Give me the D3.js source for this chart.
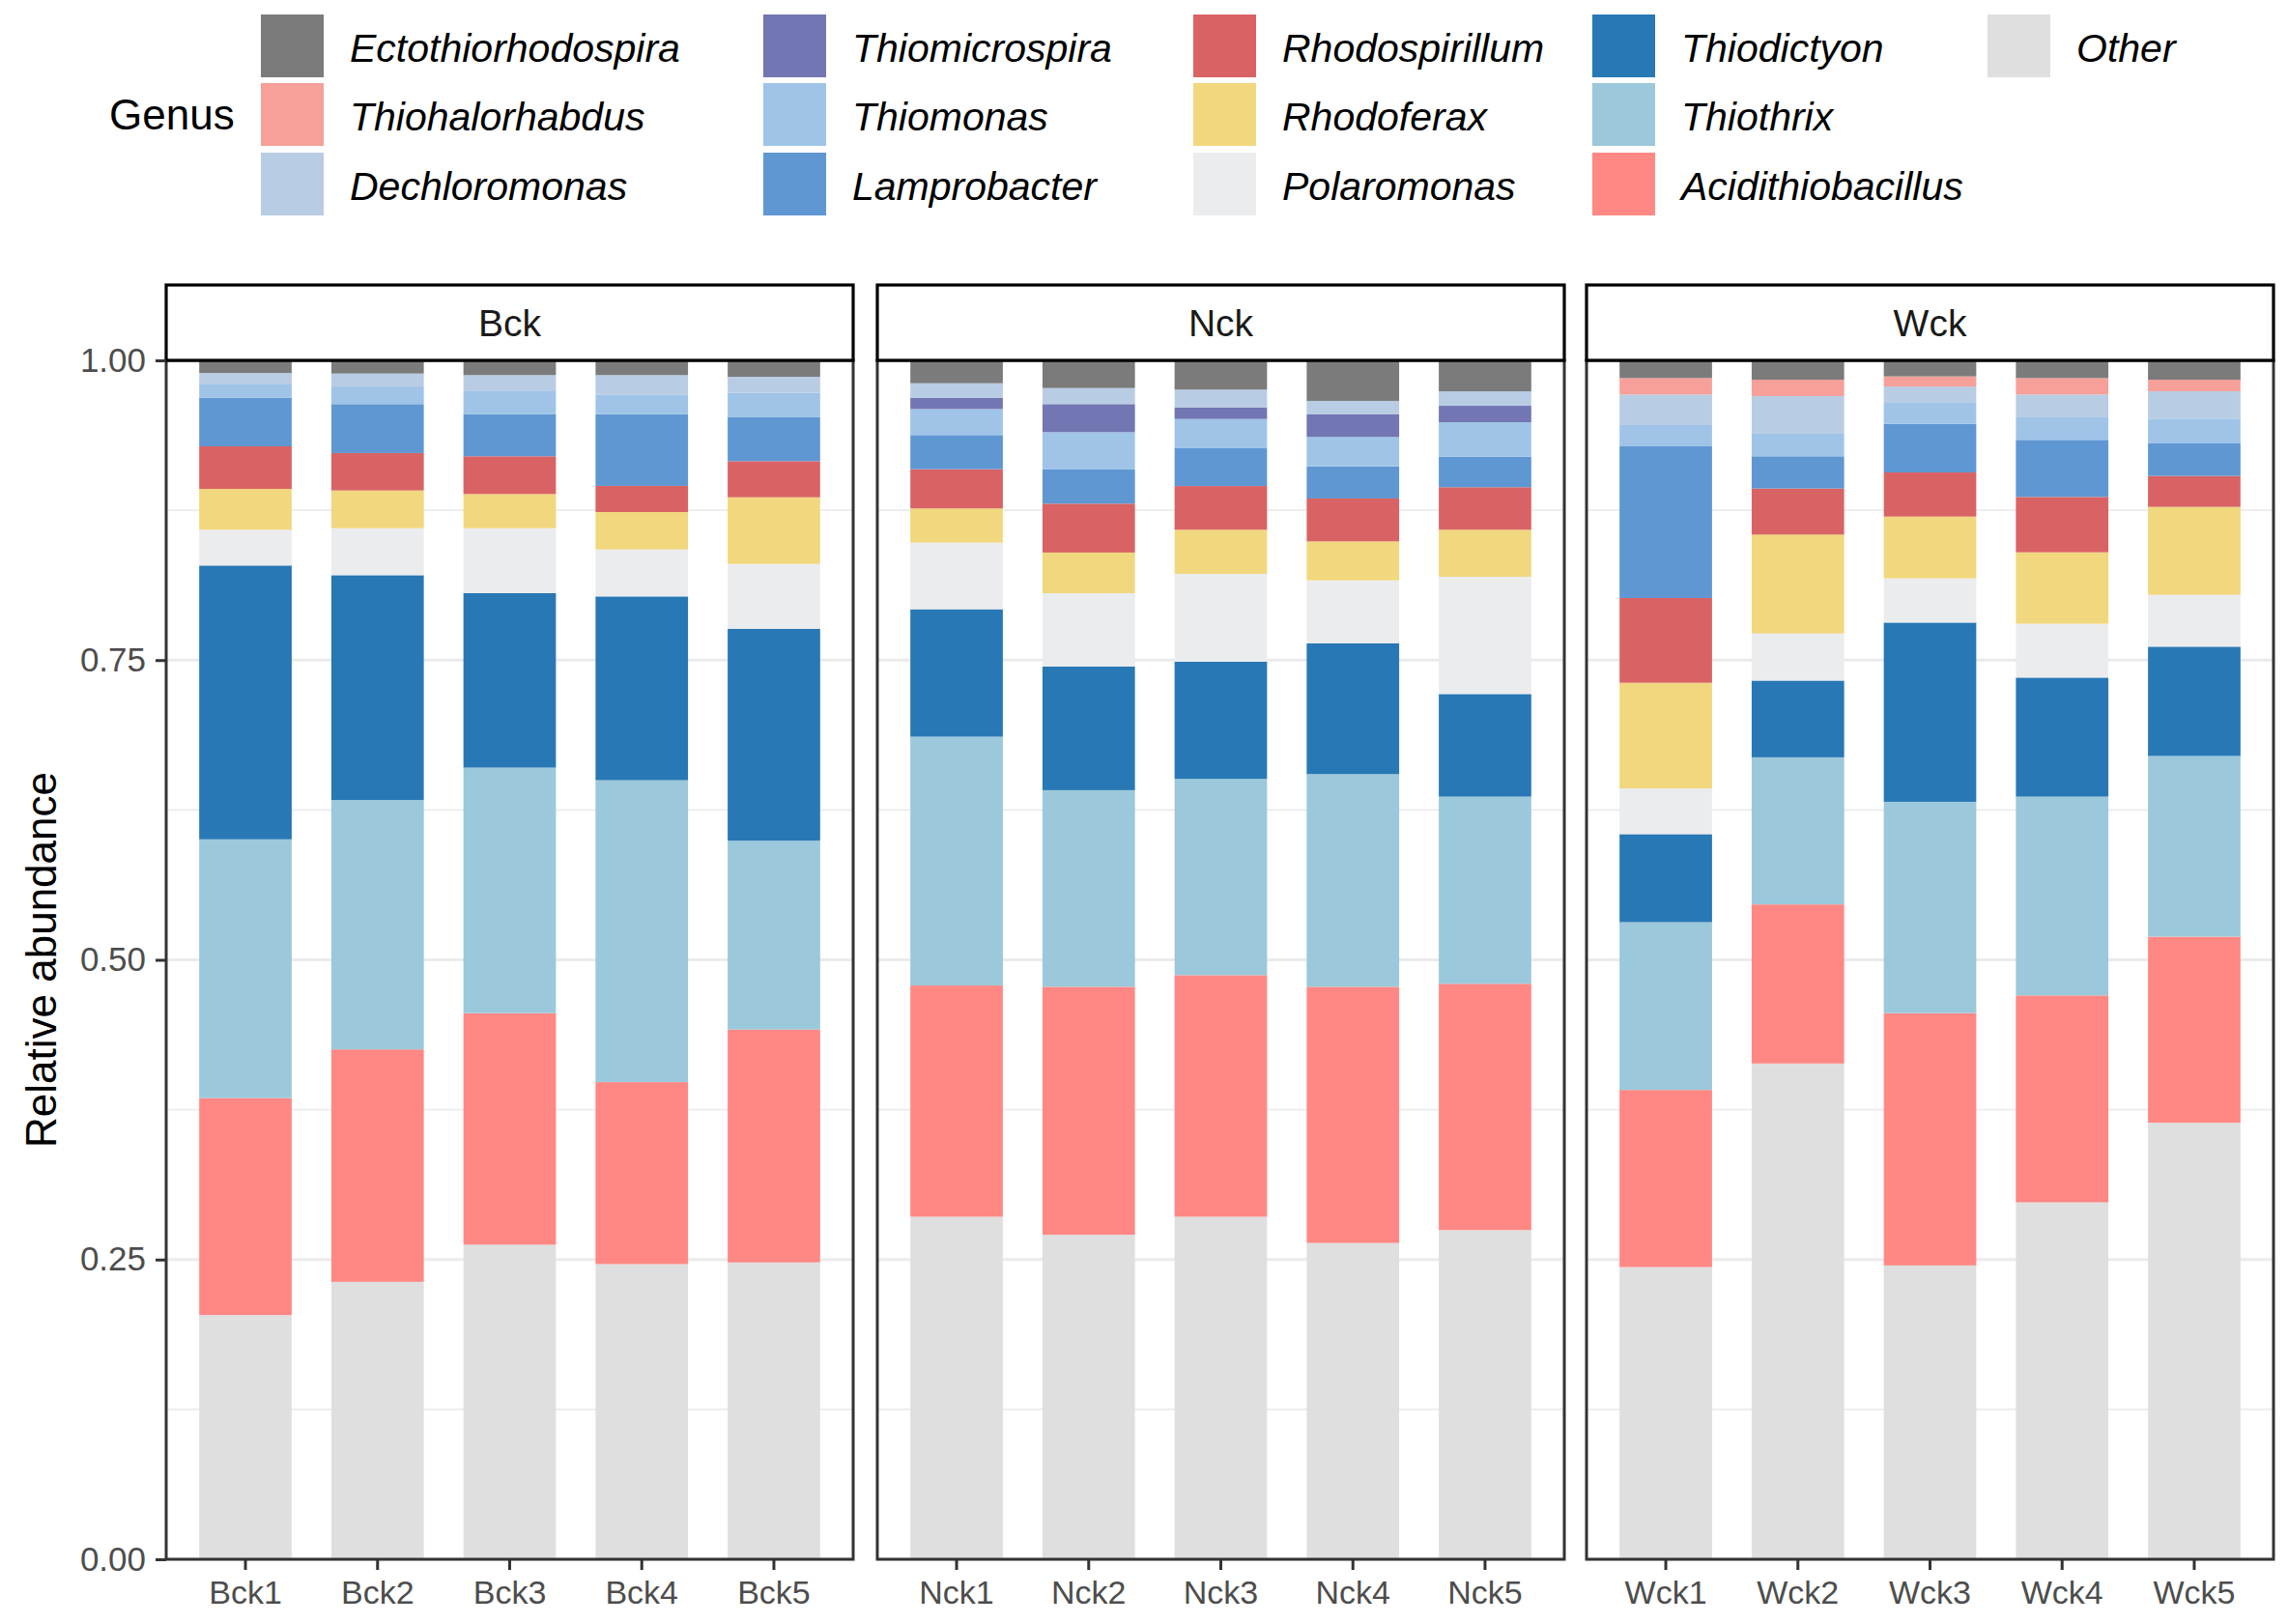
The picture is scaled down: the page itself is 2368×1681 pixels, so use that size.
<!DOCTYPE html>
<html><head><meta charset="utf-8">
<script src="https://cdn.jsdelivr.net/npm/d3@7"></script>
<style>body{margin:0;background:#fff}svg{display:block}</style>
</head><body>
<svg id="chart" width="2368" height="1681"></svg>
<script>
// ---- data ----
const groups = ["Bck", "Nck", "Wck"];
const samples = ["Bck1","Bck2","Bck3","Bck4","Bck5","Nck1","Nck2","Nck3","Nck4","Nck5","Wck1","Wck2","Wck3","Wck4","Wck5"];
const genera = ["Ectothiorhodospira","Thiohalorhabdus","Dechloromonas","Thiomicrospira","Thiomonas","Lamprobacter","Rhodospirillum","Rhodoferax","Polaromonas","Thiodictyon","Thiothrix","Acidithiobacillus","Other"];
const genusColors = ["#7b7b7b","#f6a099","#b8cce4","#7276b2","#9fc4e8","#5f97d2","#d96364","#f1d77e","#ebecee","#2878b5","#9bc8db","#ff8884","#dfdfdf"];
const yTicks = [0, 0.25, 0.5, 0.75, 1];

const Ectothiorhodospira = [0.0105,0.0110,0.0123,0.0123,0.0137, 0.0191,0.0231,0.0244,0.0338,0.0258, 0.0148,0.0161,0.0134,0.0148,0.0161];
const Thiohalorhabdus    = [0,0,0,0,0, 0,0,0,0,0, 0.0137,0.0137,0.0084,0.0137,0.0097];
const Dechloromonas      = [0.0096,0.0108,0.0135,0.0162,0.0134, 0.0120,0.0134,0.0148,0.0110,0.0121, 0.0255,0.0314,0.0137,0.0190,0.0228];
const Thiomicrospira     = [0,0,0,0,0, 0.0095,0.0234,0.0097,0.0191,0.0137, 0,0,0,0,0];
const Thiomonas          = [0.0110,0.0147,0.0190,0.0163,0.0204, 0.0217,0.0311,0.0244,0.0245,0.0287, 0.0177,0.0188,0.0174,0.0188,0.0207];
const Lamprobacter       = [0.0406,0.0408,0.0352,0.0599,0.0366, 0.0285,0.0285,0.0315,0.0268,0.0255, 0.1265,0.0269,0.0406,0.0476,0.0271];
const Rhodospirillum     = [0.0355,0.0312,0.0315,0.0218,0.0301, 0.0327,0.0408,0.0365,0.0358,0.0355, 0.0707,0.0384,0.0368,0.0462,0.0258];
const Rhodoferax         = [0.0341,0.0315,0.0285,0.0312,0.0556, 0.0285,0.0339,0.0368,0.0325,0.0392, 0.0881,0.0825,0.0515,0.0596,0.0733];
const Polaromonas        = [0.0298,0.0392,0.0542,0.0392,0.0542, 0.0556,0.0612,0.0733,0.0526,0.0978, 0.0382,0.0393,0.0369,0.0449,0.0433];
const Thiodictyon        = [0.2284,0.1875,0.1455,0.1533,0.1766, 0.1063,0.1031,0.0977,0.1090,0.0856, 0.0734,0.0640,0.1495,0.0993,0.0912];
const Thiothrix          = [0.2158,0.2080,0.2048,0.2518,0.1575, 0.2075,0.1640,0.1637,0.1774,0.1561, 0.1399,0.1227,0.1763,0.1658,0.1507];
const Acidithiobacillus  = [0.1810,0.1939,0.1931,0.1518,0.1943, 0.1929,0.2068,0.2015,0.2137,0.2054, 0.1478,0.1327,0.2104,0.1726,0.1552];
const Other              = [0.2037,0.2314,0.2624,0.2462,0.2476, 0.2857,0.2707,0.2857,0.2638,0.2746, 0.2437,0.4135,0.2451,0.2977,0.3641];

const seriesByGenus = {Ectothiorhodospira,Thiohalorhabdus,Dechloromonas,Thiomicrospira,Thiomonas,Lamprobacter,Rhodospirillum,Rhodoferax,Polaromonas,Thiodictyon,Thiothrix,Acidithiobacillus,Other};

// ---- build table ----
const rows = samples.map((s, i) => {
  const r = {sample: s, group: s.slice(0, 3)};
  genera.forEach(g => r[g] = seriesByGenus[g][i]);
  return r;
});

const svg = d3.select("#chart");
const font = "'Liberation Sans', Arial, sans-serif";
const color = d3.scaleOrdinal().domain(genera).range(genusColors);

const panelX = [172, 908, 1642];
const panelW = 711;
const plotTop = 373, plotBottom = 1614;
const stripTop = 295;

const y = d3.scaleLinear().domain([0, 1]).range([plotBottom, plotTop]);
const stackKeys = genera.slice().reverse(); // bottom: Other ... top: Ectothiorhodospira
const stack = d3.stack().keys(stackKeys);

groups.forEach((grp, gi) => {
  const x0 = panelX[gi];
  const data = rows.filter(r => r.group === grp);
  const x = d3.scaleBand().domain(data.map(d => d.sample))
    .range([x0, x0 + panelW]).paddingInner(0.3).paddingOuter(0.25);
  const g = svg.append("g");

  const minor = [0.125, 0.375, 0.625, 0.875];
  g.selectAll(".minor").data(minor).join("line")
    .attr("x1", x0).attr("x2", x0 + panelW)
    .attr("y1", d => y(d)).attr("y2", d => y(d))
    .attr("stroke", "#ebebeb").attr("stroke-width", 1.6);
  g.selectAll(".major").data(yTicks).join("line")
    .attr("x1", x0).attr("x2", x0 + panelW)
    .attr("y1", d => y(d)).attr("y2", d => y(d))
    .attr("stroke", "#ebebeb").attr("stroke-width", 3.2);

  const layers = stack(data);
  g.selectAll(".layer").data(layers).join("g")
    .attr("fill", d => color(d.key))
    .selectAll("rect").data(d => d).join("rect")
    .attr("x", d => x(d.data.sample))
    .attr("width", x.bandwidth())
    .attr("y", d => y(d[1]))
    .attr("height", d => Math.max(0, y(d[0]) - y(d[1])));

  g.append("rect").attr("x", x0).attr("y", plotTop).attr("width", panelW).attr("height", plotBottom - plotTop)
    .attr("fill", "none").attr("stroke", "#333333").attr("stroke-width", 3);

  g.append("rect").attr("x", x0).attr("y", stripTop).attr("width", panelW).attr("height", plotTop - stripTop)
    .attr("fill", "#ffffff").attr("stroke", "#000000").attr("stroke-width", 3.2);
  g.append("text").attr("x", x0 + panelW / 2).attr("y", (stripTop + plotTop) / 2)
    .attr("text-anchor", "middle").attr("dominant-baseline", "central")
    .attr("font-family", font).attr("font-size", 39).attr("fill", "#1a1a1a").text(grp);

  const xa = g.append("g").attr("transform", `translate(0,${plotBottom})`)
    .call(d3.axisBottom(x).tickSize(11).tickPadding(11));
  xa.select(".domain").remove();
  xa.selectAll(".tick line").attr("stroke", "#333333").attr("stroke-width", 3);
  xa.selectAll(".tick text").attr("font-family", font).attr("font-size", 34).attr("fill", "#4d4d4d");

  if (gi === 0) {
    const ya = g.append("g").attr("transform", `translate(${x0},0)`)
      .call(d3.axisLeft(y).tickValues(yTicks).tickFormat(d3.format(".2f")).tickSize(11).tickPadding(10));
    ya.select(".domain").remove();
    ya.selectAll(".tick line").attr("stroke", "#333333").attr("stroke-width", 3);
    ya.selectAll(".tick text").attr("font-family", font).attr("font-size", 35).attr("fill", "#4d4d4d");
  }
});

svg.append("text").attr("transform", `translate(42,${(plotTop + plotBottom) / 2}) rotate(-90)`)
  .attr("text-anchor", "middle").attr("dominant-baseline", "central")
  .attr("font-family", font).attr("font-size", 44).attr("fill", "#000").text("Relative abundance");

const legCols = [270, 790, 1235, 1648, 2057];
const legRows = [15, 86, 158];
const keySize = 65;
const leg = svg.append("g");
leg.append("text").attr("x", 113).attr("y", legRows[1] + keySize / 2)
  .attr("dominant-baseline", "central").attr("font-family", font).attr("font-size", 44)
  .attr("fill", "#000").text("Genus");
const items = leg.selectAll(".item").data(genera).join("g")
  .attr("transform", (d, i) => `translate(${legCols[Math.floor(i / 3)]},${legRows[i % 3]})`);
items.append("rect").attr("width", keySize).attr("height", keySize).attr("fill", d => color(d));
items.append("text").attr("x", 92).attr("y", keySize / 2 + 2)
  .attr("dominant-baseline", "central").attr("font-family", font).attr("font-size", 41)
  .attr("font-style", "italic").attr("fill", "#000").text(d => d);
</script>
</body></html>
